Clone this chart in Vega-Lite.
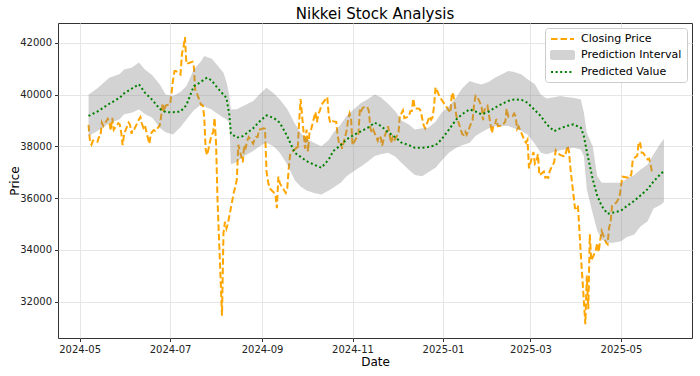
{
  "$schema": "https://vega.github.io/schema/vega-lite/v6.json",
  "autosize": {"type": "none"},
  "padding": {"left": 58, "top": 23, "right": 8, "bottom": 38},
  "width": 634,
  "height": 315,
  "background": "white",
  "title": {"text": "Nikkei Stock Analysis", "fontSize": 15, "font": "DejaVu Sans", "fontWeight": "normal", "color": "#000", "offset": 1},
  "config": {
    "view": {"stroke": "#333", "strokeWidth": 1},
    "font": "DejaVu Sans",
    "axis": {"labelFont": "DejaVu Sans", "titleFont": "DejaVu Sans", "labelFontSize": 10, "titleFontSize": 12, "titleFontWeight": "normal", "labelColor": "#222", "titleColor": "#000", "tickColor": "#333", "tickSize": 3.5, "labelPadding": 3, "domain": false, "gridColor": "#e6e6e6", "gridWidth": 1},
    "legend": {"labelFont": "DejaVu Sans", "labelFontSize": 11, "labelColor": "#000"}
  },
  "datasets": {
    "close": [
      {"d":"2024-05-07","c":38835},{"d":"2024-05-08","c":38202},{"d":"2024-05-09","c":38073},{"d":"2024-05-10","c":38229},{"d":"2024-05-13","c":38179},{"d":"2024-05-14","c":38356},{"d":"2024-05-15","c":38385},{"d":"2024-05-16","c":38920},{"d":"2024-05-17","c":38787},{"d":"2024-05-20","c":39069},{"d":"2024-05-21","c":38946},{"d":"2024-05-22","c":38617},{"d":"2024-05-23","c":39103},{"d":"2024-05-24","c":38646},{"d":"2024-05-27","c":38900},{"d":"2024-05-28","c":38855},{"d":"2024-05-29","c":38556},{"d":"2024-05-30","c":38054},{"d":"2024-05-31","c":38487},
      {"d":"2024-06-03","c":38923},{"d":"2024-06-04","c":38837},{"d":"2024-06-05","c":38490},{"d":"2024-06-06","c":38703},{"d":"2024-06-07","c":38683},{"d":"2024-06-10","c":39038},{"d":"2024-06-11","c":39134},{"d":"2024-06-12","c":38876},{"d":"2024-06-13","c":38720},{"d":"2024-06-14","c":38814},{"d":"2024-06-17","c":38102},{"d":"2024-06-18","c":38482},{"d":"2024-06-19","c":38570},{"d":"2024-06-20","c":38633},{"d":"2024-06-21","c":38596},{"d":"2024-06-24","c":38804},{"d":"2024-06-25","c":39173},{"d":"2024-06-26","c":39667},{"d":"2024-06-27","c":39341},{"d":"2024-06-28","c":39583},
      {"d":"2024-07-01","c":39631},{"d":"2024-07-02","c":40074},{"d":"2024-07-03","c":40580},{"d":"2024-07-04","c":40913},{"d":"2024-07-05","c":40912},{"d":"2024-07-08","c":40780},{"d":"2024-07-09","c":41580},{"d":"2024-07-10","c":41831},{"d":"2024-07-11","c":42224},{"d":"2024-07-12","c":41190},{"d":"2024-07-16","c":41275},{"d":"2024-07-17","c":41097},{"d":"2024-07-18","c":40126},{"d":"2024-07-19","c":40063},{"d":"2024-07-22","c":39599},{"d":"2024-07-23","c":39594},{"d":"2024-07-24","c":39154},{"d":"2024-07-25","c":37869},{"d":"2024-07-26","c":37667},{"d":"2024-07-29","c":38468},{"d":"2024-07-30","c":38525},{"d":"2024-07-31","c":39101},
      {"d":"2024-08-01","c":38126},{"d":"2024-08-02","c":35909},{"d":"2024-08-05","c":31458},{"d":"2024-08-06","c":34675},{"d":"2024-08-07","c":35089},{"d":"2024-08-08","c":34831},{"d":"2024-08-09","c":35025},{"d":"2024-08-13","c":36232},{"d":"2024-08-14","c":36442},{"d":"2024-08-15","c":36726},{"d":"2024-08-16","c":38062},{"d":"2024-08-19","c":37388},{"d":"2024-08-20","c":38062},{"d":"2024-08-21","c":37951},{"d":"2024-08-22","c":38211},{"d":"2024-08-23","c":38364},{"d":"2024-08-26","c":38110},{"d":"2024-08-27","c":38288},{"d":"2024-08-28","c":38371},{"d":"2024-08-29","c":38362},{"d":"2024-08-30","c":38647},
      {"d":"2024-09-02","c":38700},{"d":"2024-09-03","c":38686},{"d":"2024-09-04","c":37047},{"d":"2024-09-05","c":36657},{"d":"2024-09-06","c":36391},{"d":"2024-09-09","c":36215},{"d":"2024-09-10","c":36159},{"d":"2024-09-11","c":35619},{"d":"2024-09-12","c":36833},{"d":"2024-09-13","c":36581},{"d":"2024-09-17","c":36203},{"d":"2024-09-18","c":36380},{"d":"2024-09-19","c":37155},{"d":"2024-09-20","c":37723},{"d":"2024-09-24","c":37940},{"d":"2024-09-25","c":37870},{"d":"2024-09-26","c":38926},{"d":"2024-09-27","c":39830},{"d":"2024-09-30","c":37919},
      {"d":"2024-10-01","c":38651},{"d":"2024-10-02","c":37808},{"d":"2024-10-03","c":38552},{"d":"2024-10-04","c":38635},{"d":"2024-10-07","c":39332},{"d":"2024-10-08","c":38937},{"d":"2024-10-09","c":39277},{"d":"2024-10-10","c":39380},{"d":"2024-10-11","c":39605},{"d":"2024-10-15","c":39910},{"d":"2024-10-16","c":39180},{"d":"2024-10-17","c":38911},{"d":"2024-10-18","c":38981},{"d":"2024-10-21","c":38954},{"d":"2024-10-22","c":38411},{"d":"2024-10-23","c":38104},{"d":"2024-10-24","c":38143},{"d":"2024-10-25","c":37913},{"d":"2024-10-28","c":38605},{"d":"2024-10-29","c":39027},{"d":"2024-10-30","c":39277},{"d":"2024-10-31","c":39081},
      {"d":"2024-11-01","c":38053},{"d":"2024-11-05","c":38474},{"d":"2024-11-06","c":39480},{"d":"2024-11-07","c":39381},{"d":"2024-11-08","c":39500},{"d":"2024-11-11","c":39533},{"d":"2024-11-12","c":39376},{"d":"2024-11-13","c":38721},{"d":"2024-11-14","c":38535},{"d":"2024-11-15","c":38642},{"d":"2024-11-18","c":38220},{"d":"2024-11-19","c":38414},{"d":"2024-11-20","c":38352},{"d":"2024-11-21","c":38026},{"d":"2024-11-22","c":38283},{"d":"2024-11-25","c":38780},{"d":"2024-11-26","c":38442},{"d":"2024-11-27","c":38134},{"d":"2024-11-28","c":38349},{"d":"2024-11-29","c":38208},
      {"d":"2024-12-02","c":38513},{"d":"2024-12-03","c":39248},{"d":"2024-12-04","c":39276},{"d":"2024-12-05","c":39395},{"d":"2024-12-06","c":39091},{"d":"2024-12-09","c":39161},{"d":"2024-12-10","c":39367},{"d":"2024-12-11","c":39372},{"d":"2024-12-12","c":39849},{"d":"2024-12-13","c":39470},{"d":"2024-12-16","c":39457},{"d":"2024-12-17","c":39364},{"d":"2024-12-18","c":39081},{"d":"2024-12-19","c":38813},{"d":"2024-12-20","c":38701},{"d":"2024-12-23","c":39161},{"d":"2024-12-24","c":39036},{"d":"2024-12-25","c":39130},{"d":"2024-12-26","c":39568},{"d":"2024-12-27","c":40281},{"d":"2024-12-30","c":39894},
      {"d":"2025-01-06","c":39307},{"d":"2025-01-07","c":40083},{"d":"2025-01-08","c":39981},{"d":"2025-01-09","c":39605},{"d":"2025-01-10","c":39190},{"d":"2025-01-14","c":38474},{"d":"2025-01-15","c":38445},{"d":"2025-01-16","c":38572},{"d":"2025-01-17","c":38451},{"d":"2025-01-20","c":38902},{"d":"2025-01-21","c":39027},{"d":"2025-01-22","c":39646},{"d":"2025-01-23","c":39958},{"d":"2025-01-24","c":39931},{"d":"2025-01-27","c":39565},{"d":"2025-01-28","c":39016},{"d":"2025-01-29","c":39414},{"d":"2025-01-30","c":39513},{"d":"2025-01-31","c":39572},
      {"d":"2025-02-03","c":38520},{"d":"2025-02-04","c":38798},{"d":"2025-02-05","c":38831},{"d":"2025-02-06","c":39066},{"d":"2025-02-07","c":38787},{"d":"2025-02-10","c":38801},{"d":"2025-02-12","c":38963},{"d":"2025-02-13","c":39461},{"d":"2025-02-14","c":39149},{"d":"2025-02-17","c":39174},{"d":"2025-02-18","c":39270},{"d":"2025-02-19","c":39164},{"d":"2025-02-20","c":38678},{"d":"2025-02-21","c":38776},{"d":"2025-02-25","c":38237},{"d":"2025-02-26","c":38142},{"d":"2025-02-27","c":38256},{"d":"2025-02-28","c":37155},
      {"d":"2025-03-03","c":37785},{"d":"2025-03-04","c":37331},{"d":"2025-03-05","c":37418},{"d":"2025-03-06","c":37704},{"d":"2025-03-07","c":36887},{"d":"2025-03-10","c":37028},{"d":"2025-03-11","c":36793},{"d":"2025-03-12","c":36819},{"d":"2025-03-13","c":36790},{"d":"2025-03-14","c":37053},{"d":"2025-03-17","c":37396},{"d":"2025-03-18","c":37845},{"d":"2025-03-19","c":37751},{"d":"2025-03-21","c":37677},{"d":"2025-03-24","c":37608},{"d":"2025-03-25","c":37780},{"d":"2025-03-26","c":38027},{"d":"2025-03-27","c":37799},{"d":"2025-03-28","c":37120},{"d":"2025-03-31","c":35617},
      {"d":"2025-04-01","c":35624},{"d":"2025-04-02","c":35725},{"d":"2025-04-03","c":34736},{"d":"2025-04-04","c":33781},{"d":"2025-04-07","c":31136},{"d":"2025-04-08","c":33012},{"d":"2025-04-09","c":31714},{"d":"2025-04-10","c":34609},{"d":"2025-04-11","c":33586},{"d":"2025-04-14","c":33982},{"d":"2025-04-15","c":34267},{"d":"2025-04-16","c":33920},{"d":"2025-04-17","c":34377},{"d":"2025-04-18","c":34730},{"d":"2025-04-21","c":34280},{"d":"2025-04-22","c":34220},{"d":"2025-04-23","c":34868},{"d":"2025-04-24","c":35039},{"d":"2025-04-25","c":35705},{"d":"2025-04-28","c":35839},{"d":"2025-04-30","c":36045},
      {"d":"2025-05-01","c":36452},{"d":"2025-05-02","c":36830},{"d":"2025-05-07","c":36780},{"d":"2025-05-08","c":36928},{"d":"2025-05-09","c":37503},{"d":"2025-05-12","c":37644},{"d":"2025-05-13","c":38183},{"d":"2025-05-14","c":38128},{"d":"2025-05-15","c":37755},{"d":"2025-05-16","c":37753},{"d":"2025-05-19","c":37498},{"d":"2025-05-20","c":37529},{"d":"2025-05-21","c":37299},{"d":"2025-05-22","c":36985}
    ],
    "pred": [
      {"d":"2024-05-07","p":39180,"lo":38400,"hi":40000},{"d":"2024-05-13","p":39350,"lo":38600,"hi":40250},{"d":"2024-05-17","p":39500,"lo":38750,"hi":40450},{"d":"2024-05-21","p":39650,"lo":38900,"hi":40650},{"d":"2024-05-28","p":39880,"lo":39050,"hi":40800},{"d":"2024-05-31","p":40050,"lo":39240,"hi":40978},{"d":"2024-06-05","p":40230,"lo":39300,"hi":41043},{"d":"2024-06-10","p":40400,"lo":39430,"hi":41240},{"d":"2024-06-14","p":40080,"lo":39250,"hi":40978},{"d":"2024-06-19","p":39800,"lo":39111,"hi":40750},{"d":"2024-06-24","p":39450,"lo":38725,"hi":40400},{"d":"2024-06-28","p":39330,"lo":38550,"hi":40012},
      {"d":"2024-07-03","p":39320,"lo":38466,"hi":39946},{"d":"2024-07-08","p":39350,"lo":38750,"hi":40100},{"d":"2024-07-12","p":39600,"lo":39045,"hi":40332},{"d":"2024-07-17","p":40330,"lo":39400,"hi":40978},{"d":"2024-07-22","p":40500,"lo":39625,"hi":41300},{"d":"2024-07-24","p":40600,"lo":39550,"hi":41492},{"d":"2024-07-26","p":40657,"lo":39500,"hi":41450},{"d":"2024-07-29","p":40550,"lo":39432,"hi":41400},{"d":"2024-08-01","p":40330,"lo":39300,"hi":41200},{"d":"2024-08-06","p":40000,"lo":39111,"hi":40850},{"d":"2024-08-08","p":39880,"lo":39050,"hi":40500},{"d":"2024-08-10","p":39200,"lo":38918,"hi":39946},{"d":"2024-08-11","p":38500,"lo":37306,"hi":39432},{"d":"2024-08-15","p":38340,"lo":37400,"hi":39440},{"d":"2024-08-19","p":38400,"lo":37600,"hi":39550},{"d":"2024-08-26","p":38700,"lo":37820,"hi":39753},{"d":"2024-08-30","p":38950,"lo":38000,"hi":40000},
      {"d":"2024-09-04","p":39200,"lo":38145,"hi":40270},{"d":"2024-09-09","p":39100,"lo":38000,"hi":40050},{"d":"2024-09-13","p":38918,"lo":37758,"hi":39818},{"d":"2024-09-18","p":38400,"lo":37300,"hi":39450},{"d":"2024-09-23","p":37760,"lo":36700,"hi":38900},{"d":"2024-09-27","p":37600,"lo":36450,"hi":38531},{"d":"2024-10-01","p":37434,"lo":36300,"hi":38300},{"d":"2024-10-06","p":37300,"lo":36200,"hi":38145},{"d":"2024-10-11","p":37178,"lo":36147,"hi":38013},{"d":"2024-10-16","p":37500,"lo":36300,"hi":38250},{"d":"2024-10-19","p":37820,"lo":36405,"hi":38531},{"d":"2024-10-24","p":38050,"lo":36600,"hi":38850},{"d":"2024-10-28","p":38272,"lo":36854,"hi":39173},
      {"d":"2024-11-02","p":38450,"lo":37050,"hi":39450},{"d":"2024-11-07","p":38593,"lo":37240,"hi":39690},{"d":"2024-11-12","p":38750,"lo":37450,"hi":39850},{"d":"2024-11-16","p":38918,"lo":37627,"hi":40012},{"d":"2024-11-20","p":38800,"lo":37700,"hi":39900},{"d":"2024-11-25","p":38550,"lo":37758,"hi":39650},{"d":"2024-11-30","p":38350,"lo":37600,"hi":39350},{"d":"2024-12-04","p":38150,"lo":37372,"hi":39000},{"d":"2024-12-09","p":38050,"lo":37100,"hi":38850},{"d":"2024-12-13","p":37952,"lo":36900,"hi":38659},{"d":"2024-12-18","p":37950,"lo":36854,"hi":38700},{"d":"2024-12-22","p":37980,"lo":37000,"hi":38725},{"d":"2024-12-27","p":38050,"lo":37178,"hi":38950},{"d":"2024-12-31","p":38272,"lo":37450,"hi":39300},
      {"d":"2025-01-05","p":38650,"lo":37758,"hi":39550},{"d":"2025-01-10","p":39045,"lo":37950,"hi":39900},{"d":"2025-01-14","p":39250,"lo":38050,"hi":40250},{"d":"2025-01-19","p":39432,"lo":38145,"hi":40526},{"d":"2025-01-23","p":39350,"lo":38400,"hi":40450},{"d":"2025-01-27","p":39239,"lo":38550,"hi":40398},{"d":"2025-02-01","p":39350,"lo":38700,"hi":40500},{"d":"2025-02-05","p":39500,"lo":38786,"hi":40657},{"d":"2025-02-10","p":39650,"lo":38786,"hi":40800},{"d":"2025-02-14","p":39760,"lo":38786,"hi":40912},{"d":"2025-02-18","p":39818,"lo":38700,"hi":40880},{"d":"2025-02-23","p":39800,"lo":38600,"hi":40785},{"d":"2025-02-27","p":39690,"lo":38466,"hi":40600},
      {"d":"2025-03-04","p":39400,"lo":38100,"hi":40400},{"d":"2025-03-08","p":39173,"lo":37758,"hi":40000},{"d":"2025-03-12","p":38850,"lo":37700,"hi":39850},{"d":"2025-03-17","p":38593,"lo":37800,"hi":39900},{"d":"2025-03-21","p":38700,"lo":37850,"hi":39946},{"d":"2025-03-26","p":38800,"lo":37900,"hi":39900},{"d":"2025-03-30","p":38852,"lo":37952,"hi":39884},{"d":"2025-04-04","p":38725,"lo":37886,"hi":39818},{"d":"2025-04-06","p":38400,"lo":37627,"hi":39300},{"d":"2025-04-08","p":37800,"lo":36340,"hi":38531},{"d":"2025-04-12","p":36726,"lo":35400,"hi":38013},{"d":"2025-04-15","p":36100,"lo":34750,"hi":36854},{"d":"2025-04-18","p":35700,"lo":34408,"hi":36599},{"d":"2025-04-22","p":35400,"lo":34280,"hi":36599},{"d":"2025-04-26","p":35450,"lo":34280,"hi":36599},
      {"d":"2025-05-01","p":35520,"lo":34342,"hi":36599},{"d":"2025-05-05","p":35700,"lo":34500,"hi":36750},{"d":"2025-05-10","p":35900,"lo":34601,"hi":36900},{"d":"2025-05-14","p":36100,"lo":34900,"hi":37100},{"d":"2025-05-19","p":36350,"lo":35115,"hi":37300},{"d":"2025-05-23","p":36650,"lo":35600,"hi":37700},{"d":"2025-05-28","p":36950,"lo":35750,"hi":38145},{"d":"2025-05-30","p":37050,"lo":35850,"hi":38300}
    ]
  },
  "encoding": {
    "x": {
      "field": "d", "type": "temporal",
      "scale": {"domain": [{"year": 2024, "month": "apr", "date": 16, "hours": 10}, {"year": 2025, "month": "jun", "date": 17, "hours": 22}]},
      "axis": {"title": "Date", "format": "%Y-%m", "labelAngle": 0, "titlePadding": 2,
        "values": [{"year": 2024, "month": "may", "date": 1}, {"year": 2024, "month": "jul", "date": 1}, {"year": 2024, "month": "sep", "date": 1}, {"year": 2024, "month": "nov", "date": 1}, {"year": 2025, "month": "jan", "date": 1}, {"year": 2025, "month": "mar", "date": 1}, {"year": 2025, "month": "may", "date": 1}]}
    }
  },
  "layer": [
    {
      "data": {"name": "close", "format": {"parse": {"d": "date:'%Y-%m-%d'"}}},
      "mark": {"type": "line", "strokeWidth": 2, "strokeDash": [6.5, 3]},
      "encoding": {
        "y": {"field": "c", "type": "quantitative", "scale": {"domain": [30600, 42770], "nice": false, "zero": false},
          "axis": {"title": "Price", "format": "d", "values": [32000, 34000, 36000, 38000, 40000, 42000], "titlePadding": -2}},
        "color": {"datum": "Closing Price", "type": "nominal",
          "scale": {"domain": ["Closing Price", "Prediction Interval", "Predicted Value"], "range": ["#FFA500", "#d3d3d3", "#008000"]},
          "legend": {
            "title": null, "orient": "top-right", "offset": 5,
            "fillColor": "white", "strokeColor": "#cccccc", "cornerRadius": 3, "padding": 5,
            "symbolSize": 100, "rowPadding": 3, "labelOffset": 19,
            "encode": {"symbols": {"update": {
              "shape": {"signal": "datum.label === 'Prediction Interval' ? 'M-1,-0.8H3.6V0.8H-1Z' : 'M-1,0H3.6'"},
              "fill": {"signal": "datum.label === 'Prediction Interval' ? '#d3d3d3' : 'transparent'"},
              "stroke": {"signal": "datum.label === 'Closing Price' ? '#FFA500' : (datum.label === 'Predicted Value' ? '#008000' : 'transparent')"},
              "strokeDash": {"signal": "datum.label === 'Closing Price' ? [6.5, 3] : (datum.label === 'Predicted Value' ? [2, 2.6] : [1, 0])"},
              "strokeWidth": {"value": 2},
              "opacity": {"value": 1}, "fillOpacity": {"value": 1}, "strokeOpacity": {"value": 1}
            }}}
          }}
      }
    },
    {
      "data": {"name": "pred", "format": {"parse": {"d": "date:'%Y-%m-%d'"}}},
      "layer": [
        {
          "mark": {"type": "area", "fill": "#808080", "opacity": 0.35},
          "encoding": {
            "y": {"field": "lo", "type": "quantitative"},
            "y2": {"field": "hi"}
          }
        },
        {
          "mark": {"type": "line", "strokeWidth": 2, "strokeDash": [2, 2.6]},
          "encoding": {
            "y": {"field": "p", "type": "quantitative"},
            "color": {"datum": "Predicted Value", "type": "nominal"}
          }
        }
      ]
    }
  ]
}
